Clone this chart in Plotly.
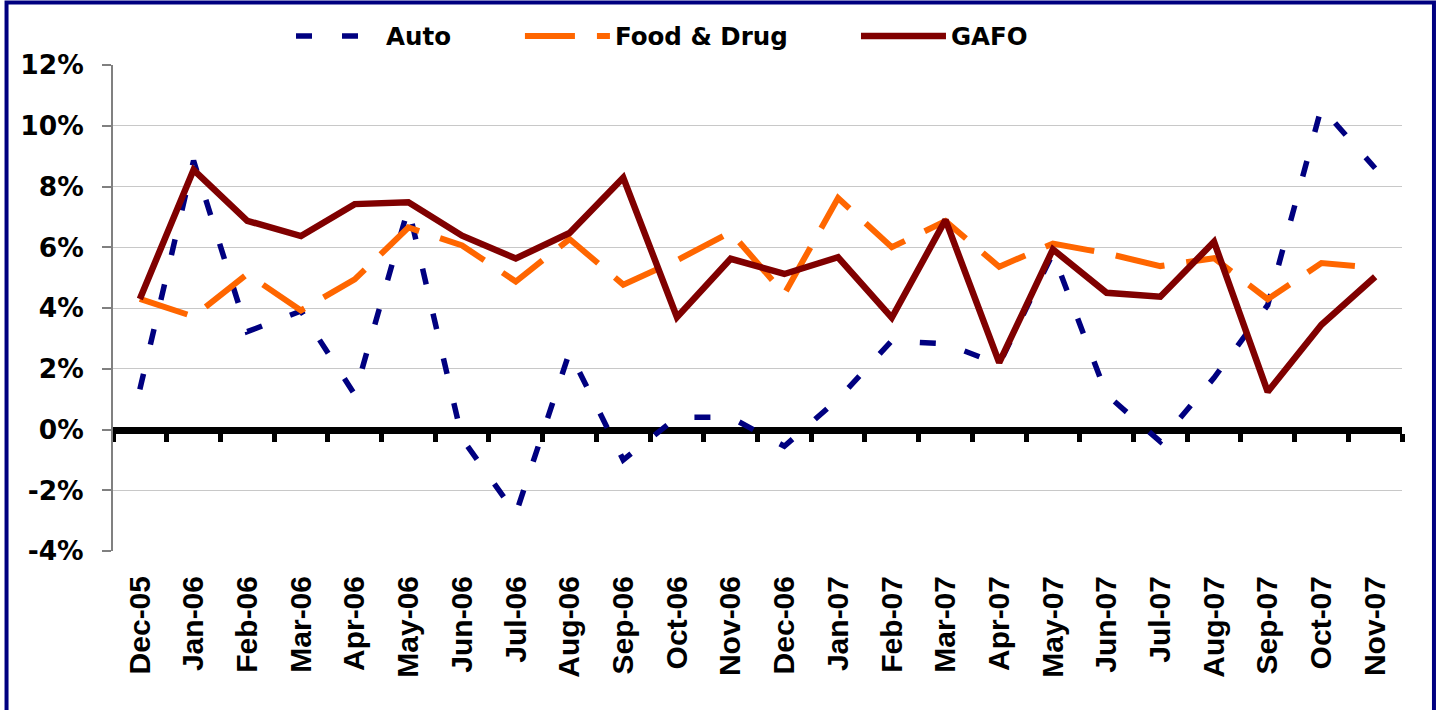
import plotly.graph_objects as go

months = ["Dec-05", "Jan-06", "Feb-06", "Mar-06", "Apr-06", "May-06", "Jun-06", "Jul-06",
          "Aug-06", "Sep-06", "Oct-06", "Nov-06", "Dec-06", "Jan-07", "Feb-07", "Mar-07",
          "Apr-07", "May-07", "Jun-07", "Jul-07", "Aug-07", "Sep-07", "Oct-07", "Nov-07"]

auto = [1.32, 8.85, 3.22, 3.9, 1.15, 7.3, -0.3, -2.78, 2.55, -1.0, 0.4, 0.4,
        -0.55, 1.0, 2.92, 2.82, 2.15, 5.8, 1.15, -0.4, 1.7, 4.1, 10.6, 8.6]

food_drug = [4.3, 3.72, 5.12, 3.92, 4.94, 6.65, 6.06, 4.87, 6.27, 4.77, 5.57, 6.5,
             4.46, 7.62, 6.0, 6.86, 5.36, 6.12, 5.8, 5.38, 5.64, 4.29, 5.48, 5.32]

gafo = [4.3, 8.55, 6.87, 6.37, 7.42, 7.48, 6.38, 5.63, 6.47, 8.29, 3.7, 5.62,
        5.12, 5.67, 3.68, 6.9, 2.2, 5.93, 4.5, 4.37, 6.18, 1.24, 3.45, 5.03]

y_ticks = [-4, -2, 0, 2, 4, 6, 8, 10, 12]
y_tick_text = ["-4%", "-2%", "0%", "2%", "4%", "6%", "8%", "10%", "12%"]

NAVY = "#000080"
ORANGE = "#FF6600"
MAROON = "#800000"

fig = go.Figure()
fig.add_trace(go.Scatter(x=months, y=auto, name="Auto", mode="lines",
                         line=dict(color=NAVY, width=5.5, dash="16px,30px"),
                         legend="legend"))
fig.add_trace(go.Scatter(x=months, y=food_drug, name="Food & Drug", mode="lines",
                         line=dict(color=ORANGE, width=6, dash="50px,22px"),
                         legend="legend2"))
fig.add_trace(go.Scatter(x=months, y=gafo, name="GAFO", mode="lines",
                         line=dict(color=MAROON, width=6.5),
                         legend="legend3", xaxis="x2"))

leg_font = dict(family="DejaVu Sans", size=24.5, color="black", weight="bold")
leg_common = dict(orientation="h", yanchor="middle", y=1.0597, xanchor="left",
                  font=leg_font, itemwidth=85, bgcolor="rgba(0,0,0,0)",
                  borderwidth=0)

cat_range = [-0.5, len(months) - 0.5]

fig.update_layout(
    width=1437, height=710,
    margin=dict(l=113, r=35, t=65, b=159),
    paper_bgcolor="white", plot_bgcolor="white",
    legend=dict(x=0.1381, **leg_common),
    legend2=dict(x=0.3157, **leg_common),
    legend3=dict(x=0.5764, **leg_common),
    xaxis=dict(type="category", categoryorder="array", categoryarray=months,
               range=cat_range, showline=False, showgrid=False,
               zeroline=False, ticks="", tickangle=-90, ticklabelstandoff=18,
               tickfont=dict(family="Liberation Sans", size=30, color="black", weight="bold")),
    xaxis2=dict(type="category", categoryorder="array", categoryarray=months,
                overlaying="x", anchor="free", position=0.25, side="bottom",
                range=cat_range, tickson="boundaries",
                ticks="outside", ticklen=8, tickwidth=5, tickcolor="black",
                showline=True, linewidth=7, linecolor="black",
                showticklabels=False, showgrid=False, zeroline=False,
                layer="below traces"),
    yaxis=dict(range=[y_ticks[0], y_ticks[-1]], tickmode="array",
               tickvals=y_ticks, ticktext=y_tick_text,
               showgrid=True, gridcolor="#c8c8c8", gridwidth=1, zeroline=False,
               showline=True, linecolor="#808080", linewidth=2,
               ticks="outside", ticklen=9, tickwidth=1.5, tickcolor="#808080",
               ticklabelstandoff=13,
               tickfont=dict(family="DejaVu Sans", size=26.5, color="black", weight="bold")),
    shapes=[dict(type="rect", xref="paper", yref="paper",
                 x0=-0.0826, x1=1.0248, y0=-0.335, y1=1.1286,
                 line=dict(color=NAVY, width=4), fillcolor="rgba(0,0,0,0)",
                 layer="above")],
    showlegend=True,
)

fig.write_html("out.html", config={"displayModeBar": False},
               post_script="document.body.style.margin='0';document.body.style.overflow='hidden';")
